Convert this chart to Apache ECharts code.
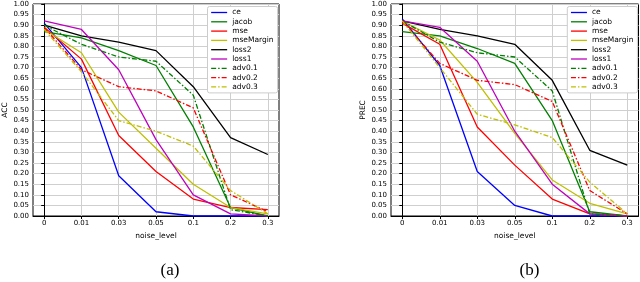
<!DOCTYPE html>
<html><head><meta charset="utf-8">
<script src="https://cdn.jsdelivr.net/npm/echarts@6/dist/echarts.min.js"></script>
<style>html,body{margin:0;padding:0;background:#fff}#c{width:640px;height:282px}</style>
</head><body><div id="c"></div>
<script>
const xTicks = ['0','0.01','0.03','0.05','0.1','0.2','0.3'];
const seriesNames = ['ce','jacob','mse','mseMargin','loss2','loss1','adv0.1','adv0.2','adv0.3'];
// ACC (a)
const accCe        = [0.91,0.70,0.19,0.02,0.00,0.00,0.00];
const accJacob     = [0.87,0.84,0.78,0.71,0.42,0.04,0.00];
const accMse       = [0.89,0.74,0.38,0.21,0.08,0.04,0.03];
const accMseMargin = [0.88,0.77,0.49,0.32,0.15,0.04,0.01];
const accLoss2     = [0.90,0.85,0.82,0.78,0.61,0.37,0.29];
const accLoss1     = [0.92,0.88,0.69,0.36,0.10,0.01,0.00];
const accAdv01     = [0.90,0.81,0.75,0.73,0.57,0.03,0.00];
const accAdv02     = [0.89,0.69,0.61,0.59,0.51,0.10,0.02];
const accAdv03     = [0.88,0.68,0.45,0.40,0.33,0.12,0.01];
// PREC (b)
const precCe        = [0.93,0.71,0.21,0.05,0.00,0.00,0.00];
const precJacob     = [0.87,0.85,0.79,0.72,0.45,0.02,0.00];
const precMse       = [0.91,0.81,0.42,0.24,0.08,0.01,0.00];
const precMseMargin = [0.92,0.83,0.63,0.39,0.17,0.06,0.01];
const precLoss2     = [0.92,0.88,0.85,0.81,0.64,0.31,0.24];
const precLoss1     = [0.92,0.89,0.73,0.40,0.15,0.01,0.00];
const precAdv01     = [0.92,0.82,0.77,0.75,0.59,0.01,0.00];
const precAdv02     = [0.92,0.72,0.64,0.62,0.54,0.12,0.01];
const precAdv03     = [0.92,0.70,0.48,0.43,0.37,0.16,0.01];

const accData  = [accCe,accJacob,accMse,accMseMargin,accLoss2,accLoss1,accAdv01,accAdv02,accAdv03];
const precData = [precCe,precJacob,precMse,precMseMargin,precLoss2,precLoss1,precAdv01,precAdv02,precAdv03];
const colors = ['#0000ff','#008000','#ff0000','#bfbf00','#000000','#bf00bf','#008000','#ff0000','#bfbf00'];
const dashDot = [5,2,1.5,2];
const styles = ['solid','solid','solid','solid','solid','solid',dashDot,dashDot,dashDot];

const FONT = 'DejaVu Sans';
const tickIdx = [0,1,2,3,4,5,6];

function xAx(gi){
  return {type:'value', gridIndex:gi, min:-0.3, max:6.3,
    name:'noise_level', nameLocation:'middle', nameGap:12,
    nameTextStyle:{fontFamily:FONT,fontSize:7.5,color:'#000'},
    axisLine:{show:true,lineStyle:{color:'#000',width:1}},
    axisTick:{show:true,length:3,customValues:tickIdx,lineStyle:{color:'#000'}},
    axisLabel:{customValues:tickIdx,formatter:v=>xTicks[Math.round(v)],fontFamily:FONT,fontSize:7,color:'#000',margin:4},
    splitLine:{show:true,lineStyle:{color:'#cfcfcf',width:1}}};
}
function yAx(gi,name){
  return {type:'value', gridIndex:gi, min:0, max:1, interval:0.05,
    name:name, nameLocation:'middle', nameRotate:90, nameGap:24,
    nameTextStyle:{fontFamily:FONT,fontSize:7.5,color:'#000'},
    axisLine:{show:true,lineStyle:{color:'#000',width:1}},
    axisTick:{show:true,length:3,lineStyle:{color:'#000'}},
    axisLabel:{formatter:v=>v.toFixed(2),fontFamily:FONT,fontSize:7,color:'#000',margin:4,showMinLabel:true,showMaxLabel:true},
    splitLine:{show:true,lineStyle:{color:'#cfcfcf',width:1}}};
}
const series = [];
[accData,precData].forEach((set,gi)=>{
  set.forEach((vals,k)=>{
    series.push({type:'line', name:seriesNames[k], xAxisIndex:gi, yAxisIndex:gi,
      data: vals.map((v,i)=>[i,v]), symbol:'none', showSymbol:false, animation:false,
      lineStyle:{color:colors[k], width:1.3, type:styles[k]}, itemStyle:{color:colors[k]}});
  });
});
function leg(left){
  return {orient:'vertical', left:left, top:6.5, data:seriesNames, itemWidth:16, itemHeight:8, itemGap:1.3,
    padding:[2,4,2,3], backgroundColor:'#fff', borderColor:'#cccccc', borderWidth:1, borderRadius:2,
    itemStyle:{opacity:0}, lineStyle:{width:1.3},
    textStyle:{fontFamily:FONT,fontSize:7.5,color:'#000'}, selectedMode:false};
}
const chart = echarts.init(document.getElementById('c'), null, {renderer:'canvas'});
chart.setOption({
  animation:false,
  grid:[
    {left:32, top:4, width:247, height:212, show:true, borderColor:'#000', borderWidth:1, backgroundColor:'transparent'},
    {left:391, top:4, width:247.5, height:212, show:true, borderColor:'#000', borderWidth:1, backgroundColor:'transparent'}
  ],
  xAxis:[xAx(0), xAx(1)],
  yAxis:[yAx(0,'ACC'), yAx(1,'PREC')],
  legend:[leg(207.5), leg(567.3)],
  series:series,
  graphic:[
    {type:'text', left:160.5, top:262, style:{text:'(a)', font:'17px "Liberation Serif"', fill:'#000'}},
    {type:'text', left:519.5, top:262, style:{text:'(b)', font:'17px "Liberation Serif"', fill:'#000'}}
  ]
});
</script></body></html>
